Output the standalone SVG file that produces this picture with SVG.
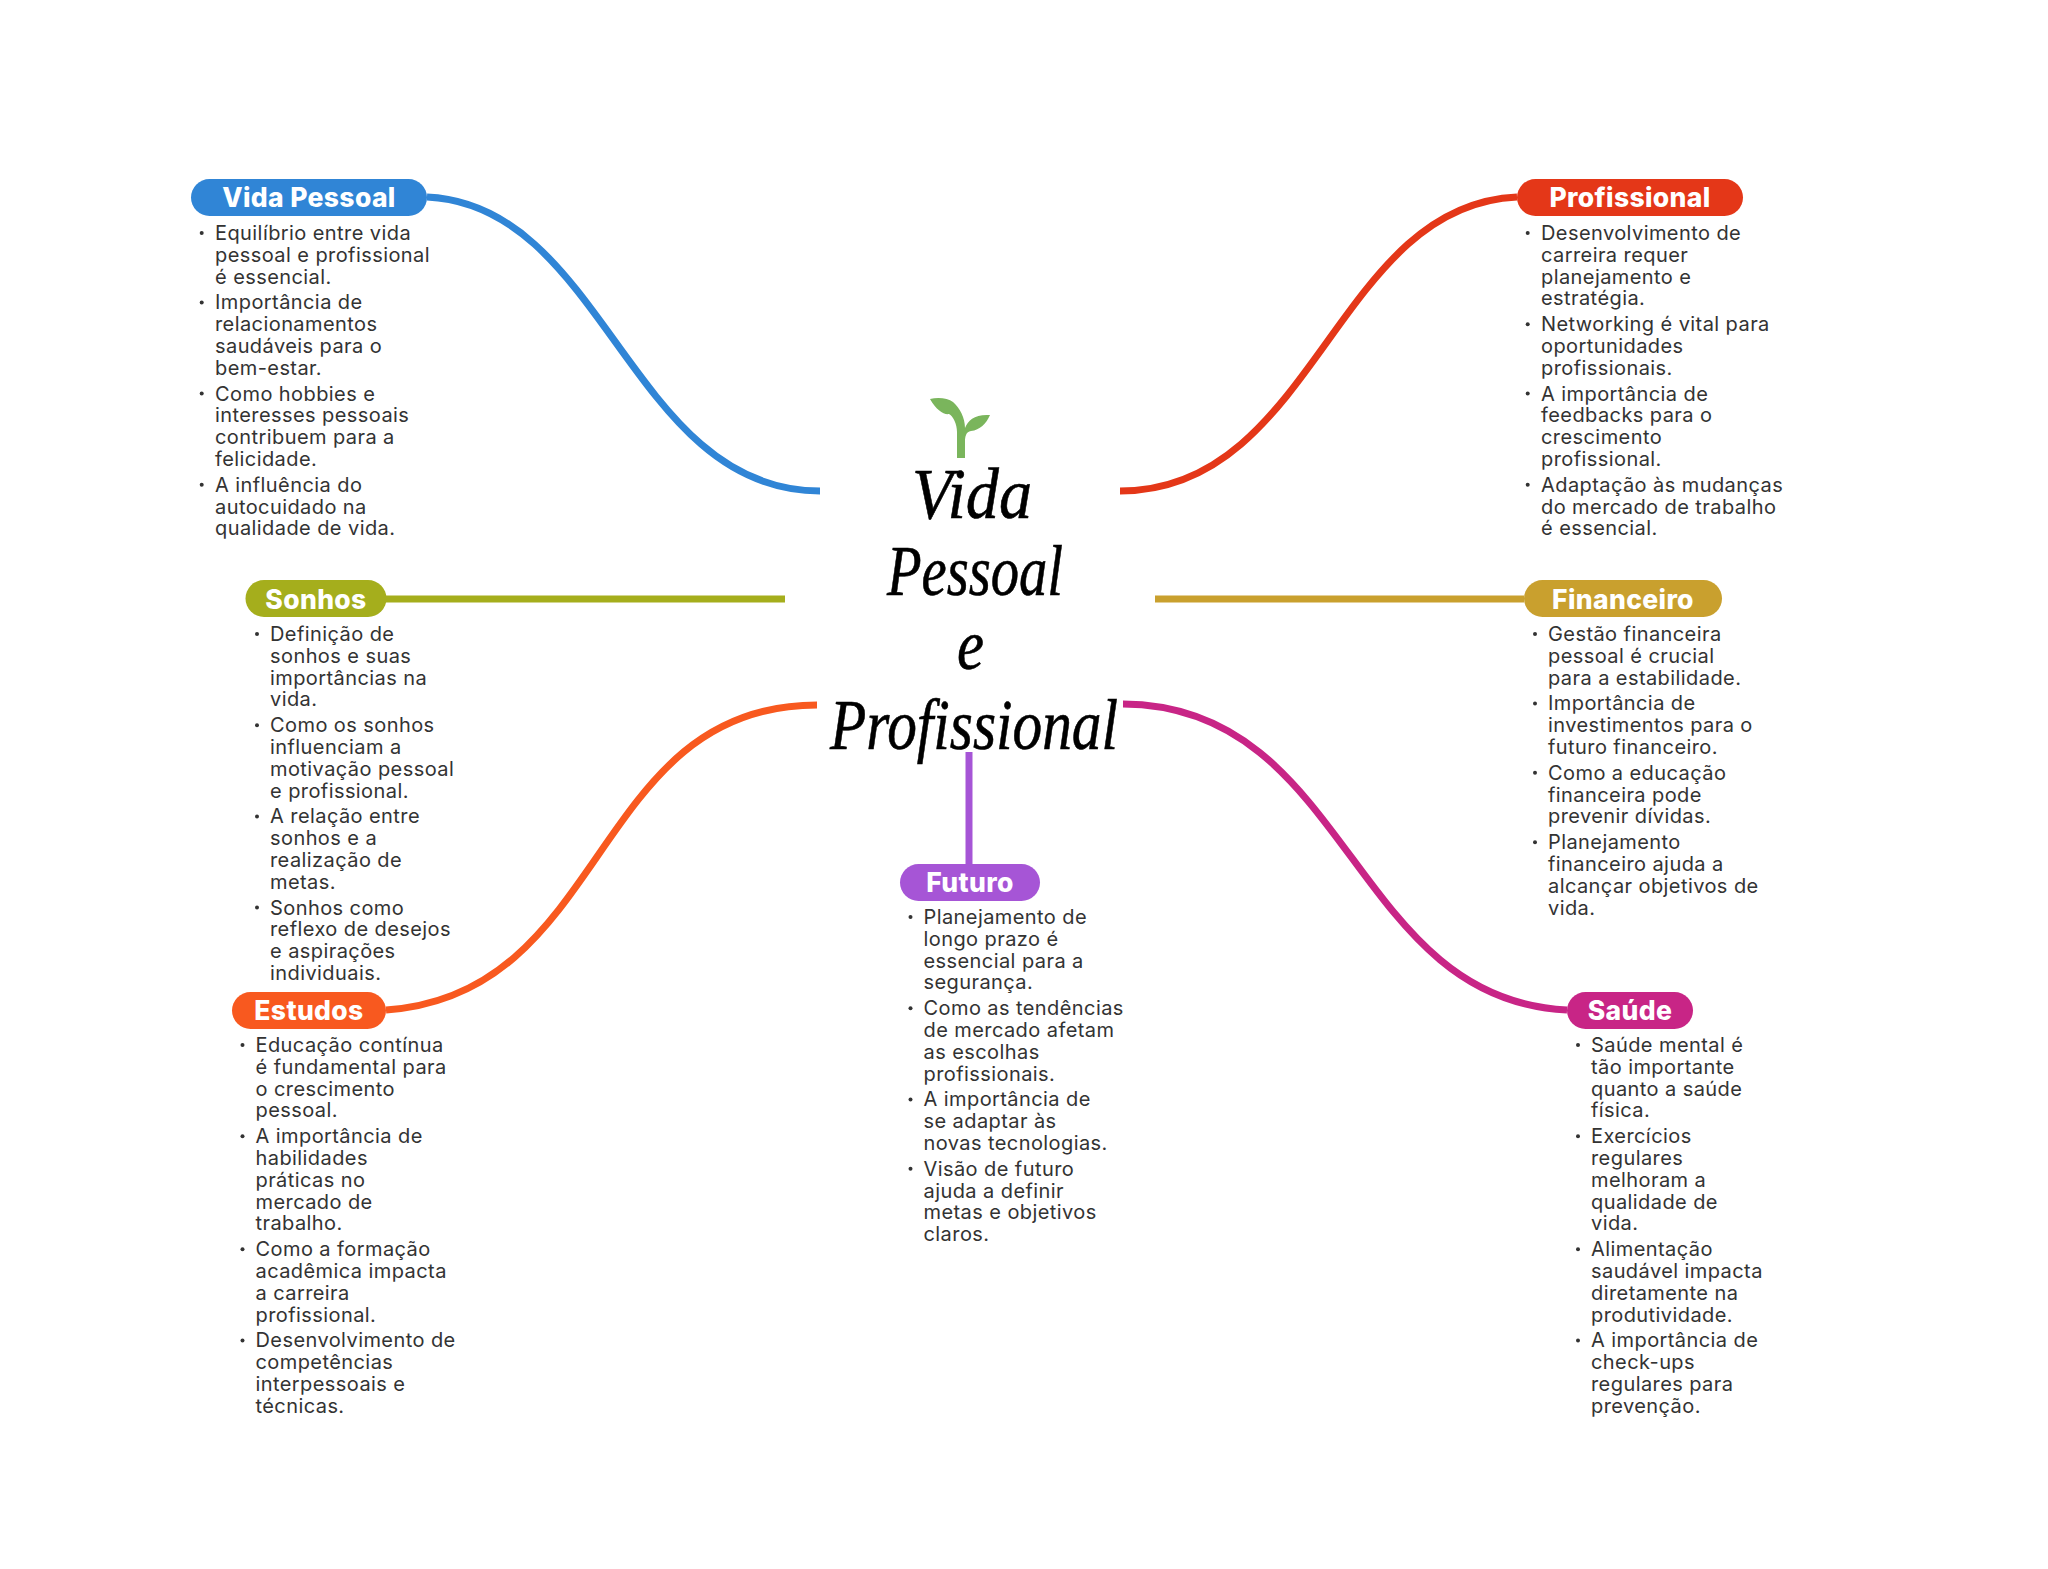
<svg xmlns="http://www.w3.org/2000/svg" width="2048" height="1569" viewBox="0 0 2048 1569">
<style>
.c{fill:none;stroke-width:7}
.p{font:800 26.5px Inter,"Open Sans",sans-serif;fill:#fff;text-anchor:middle;letter-spacing:.35px}
.t{font:400 20px Inter,"Open Sans",sans-serif;fill:#333;letter-spacing:.42px}
.b{fill:#333}
.h{font:italic 400 72px "Liberation Serif",serif;fill:#000;stroke:#000;stroke-width:.6}
</style>
<rect width="2048" height="1569" fill="#fff"/>
<g id="connectors">
<path class="c" stroke="#3085d6" d="M427 197C605 205 630 491 820 491"/>
<path class="c" stroke="#e43718" d="M1517 197C1335 205 1315 491 1120 491"/>
<path class="c" stroke="#a5ae1c" d="M386 599H785"/>
<path class="c" stroke="#c9a02e" d="M1155 599H1524"/>
<path class="c" stroke="#f8591f" d="M386 1010C610 995 590 705 817 705"/>
<path class="c" stroke="#c82586" d="M1123 704C1350 705 1350 1000 1567 1010"/>
<path class="c" stroke="#a655d6" d="M969 752V864"/>
</g>
<g id="center">
<path fill="#7ab55c" d="M930 399C938 397 948 398 953 402C960 408 965 418 965 428C968 420 975 414 990 415C986 424 980 430 971 431C966 432 965 436 965 442V458H957V432C957 424 953 416 949 414C944 415 936 410 930 399Z"/>
<text class="h" x="912" y="518" textLength="120" lengthAdjust="spacingAndGlyphs">Vida</text>
<text class="h" x="887" y="595" textLength="176" lengthAdjust="spacingAndGlyphs">Pessoal</text>
<text class="h" x="957" y="669" textLength="27" lengthAdjust="spacingAndGlyphs">e</text>
<text class="h" x="830" y="749" textLength="288" lengthAdjust="spacingAndGlyphs">Profissional</text>
</g>
<g id="vida-pessoal">
<rect x="191" y="179" width="236" height="37" rx="18.5" fill="#3085d6"/>
<text class="p" x="309" y="207">Vida Pessoal</text>
<g class="b"><circle cx="201.7" cy="233" r="2"/><circle cx="201.7" cy="302.4" r="2"/><circle cx="201.7" cy="393.6" r="2"/><circle cx="201.7" cy="484.8" r="2"/></g>
<text class="t"><tspan x="215" y="240">Equilíbrio entre vida</tspan><tspan x="215" dy="21.8">pessoal e profissional</tspan><tspan x="215" dy="21.8">é essencial.</tspan></text>
<text class="t"><tspan x="215" y="309.4">Importância de</tspan><tspan x="215" dy="21.8">relacionamentos</tspan><tspan x="215" dy="21.8">saudáveis para o</tspan><tspan x="215" dy="21.8">bem-estar.</tspan></text>
<text class="t"><tspan x="215" y="400.6">Como hobbies e</tspan><tspan x="215" dy="21.8">interesses pessoais</tspan><tspan x="215" dy="21.8">contribuem para a</tspan><tspan x="215" dy="21.8">felicidade.</tspan></text>
<text class="t"><tspan x="215" y="491.8">A influência do</tspan><tspan x="215" dy="21.8">autocuidado na</tspan><tspan x="215" dy="21.8">qualidade de vida.</tspan></text>
</g>
<g id="profissional">
<rect x="1517" y="179" width="226" height="37" rx="18.5" fill="#e43718"/>
<text class="p" x="1630" y="207">Profissional</text>
<g class="b"><circle cx="1527.7" cy="233" r="2"/><circle cx="1527.7" cy="324.2" r="2"/><circle cx="1527.7" cy="393.6" r="2"/><circle cx="1527.7" cy="484.8" r="2"/></g>
<text class="t"><tspan x="1541" y="240">Desenvolvimento de</tspan><tspan x="1541" dy="21.8">carreira requer</tspan><tspan x="1541" dy="21.8">planejamento e</tspan><tspan x="1541" dy="21.8">estratégia.</tspan></text>
<text class="t"><tspan x="1541" y="331.2">Networking é vital para</tspan><tspan x="1541" dy="21.8">oportunidades</tspan><tspan x="1541" dy="21.8">profissionais.</tspan></text>
<text class="t"><tspan x="1541" y="400.6">A importância de</tspan><tspan x="1541" dy="21.8">feedbacks para o</tspan><tspan x="1541" dy="21.8">crescimento</tspan><tspan x="1541" dy="21.8">profissional.</tspan></text>
<text class="t"><tspan x="1541" y="491.8">Adaptação às mudanças</tspan><tspan x="1541" dy="21.8">do mercado de trabalho</tspan><tspan x="1541" dy="21.8">é essencial.</tspan></text>
</g>
<g id="sonhos">
<rect x="245.5" y="580" width="141" height="37" rx="18.5" fill="#a5ae1c"/>
<text class="p" x="316" y="609">Sonhos</text>
<g class="b"><circle cx="257" cy="634" r="2"/><circle cx="257" cy="725.2" r="2"/><circle cx="257" cy="816.4" r="2"/><circle cx="257" cy="907.6" r="2"/></g>
<text class="t"><tspan x="270" y="641">Definição de</tspan><tspan x="270" dy="21.8">sonhos e suas</tspan><tspan x="270" dy="21.8">importâncias na</tspan><tspan x="270" dy="21.8">vida.</tspan></text>
<text class="t"><tspan x="270" y="732.2">Como os sonhos</tspan><tspan x="270" dy="21.8">influenciam a</tspan><tspan x="270" dy="21.8">motivação pessoal</tspan><tspan x="270" dy="21.8">e profissional.</tspan></text>
<text class="t"><tspan x="270" y="823.4">A relação entre</tspan><tspan x="270" dy="21.8">sonhos e a</tspan><tspan x="270" dy="21.8">realização de</tspan><tspan x="270" dy="21.8">metas.</tspan></text>
<text class="t"><tspan x="270" y="914.6">Sonhos como</tspan><tspan x="270" dy="21.8">reflexo de desejos</tspan><tspan x="270" dy="21.8">e aspirações</tspan><tspan x="270" dy="21.8">individuais.</tspan></text>
</g>
<g id="financeiro">
<rect x="1524" y="580" width="198" height="37" rx="18.5" fill="#c9a02e"/>
<text class="p" x="1623" y="609">Financeiro</text>
<g class="b"><circle cx="1535" cy="634" r="2"/><circle cx="1535" cy="703.4" r="2"/><circle cx="1535" cy="772.8" r="2"/><circle cx="1535" cy="842.2" r="2"/></g>
<text class="t"><tspan x="1548" y="641">Gestão financeira</tspan><tspan x="1548" dy="21.8">pessoal é crucial</tspan><tspan x="1548" dy="21.8">para a estabilidade.</tspan></text>
<text class="t"><tspan x="1548" y="710.4">Importância de</tspan><tspan x="1548" dy="21.8">investimentos para o</tspan><tspan x="1548" dy="21.8">futuro financeiro.</tspan></text>
<text class="t"><tspan x="1548" y="779.8">Como a educação</tspan><tspan x="1548" dy="21.8">financeira pode</tspan><tspan x="1548" dy="21.8">prevenir dívidas.</tspan></text>
<text class="t"><tspan x="1548" y="849.2">Planejamento</tspan><tspan x="1548" dy="21.8">financeiro ajuda a</tspan><tspan x="1548" dy="21.8">alcançar objetivos de</tspan><tspan x="1548" dy="21.8">vida.</tspan></text>
</g>
<g id="estudos">
<rect x="232" y="992" width="154" height="37" rx="18.5" fill="#f8591f"/>
<text class="p" x="309" y="1020">Estudos</text>
<g class="b"><circle cx="242.5" cy="1045" r="2"/><circle cx="242.5" cy="1136.2" r="2"/><circle cx="242.5" cy="1249.2" r="2"/><circle cx="242.5" cy="1340.4" r="2"/></g>
<text class="t"><tspan x="255.5" y="1052">Educação contínua</tspan><tspan x="255.5" dy="21.8">é fundamental para</tspan><tspan x="255.5" dy="21.8">o crescimento</tspan><tspan x="255.5" dy="21.8">pessoal.</tspan></text>
<text class="t"><tspan x="255.5" y="1143.2">A importância de</tspan><tspan x="255.5" dy="21.8">habilidades</tspan><tspan x="255.5" dy="21.8">práticas no</tspan><tspan x="255.5" dy="21.8">mercado de</tspan><tspan x="255.5" dy="21.8">trabalho.</tspan></text>
<text class="t"><tspan x="255.5" y="1256.2">Como a formação</tspan><tspan x="255.5" dy="21.8">acadêmica impacta</tspan><tspan x="255.5" dy="21.8">a carreira</tspan><tspan x="255.5" dy="21.8">profissional.</tspan></text>
<text class="t"><tspan x="255.5" y="1347.4">Desenvolvimento de</tspan><tspan x="255.5" dy="21.8">competências</tspan><tspan x="255.5" dy="21.8">interpessoais e</tspan><tspan x="255.5" dy="21.8">técnicas.</tspan></text>
</g>
<g id="futuro">
<rect x="900" y="864" width="140" height="37" rx="18.5" fill="#a655d6"/>
<text class="p" x="970" y="892">Futuro</text>
<g class="b"><circle cx="910.5" cy="917" r="2"/><circle cx="910.5" cy="1008.2" r="2"/><circle cx="910.5" cy="1099.4" r="2"/><circle cx="910.5" cy="1168.8" r="2"/></g>
<text class="t"><tspan x="923.5" y="924">Planejamento de</tspan><tspan x="923.5" dy="21.8">longo prazo é</tspan><tspan x="923.5" dy="21.8">essencial para a</tspan><tspan x="923.5" dy="21.8">segurança.</tspan></text>
<text class="t"><tspan x="923.5" y="1015.2">Como as tendências</tspan><tspan x="923.5" dy="21.8">de mercado afetam</tspan><tspan x="923.5" dy="21.8">as escolhas</tspan><tspan x="923.5" dy="21.8">profissionais.</tspan></text>
<text class="t"><tspan x="923.5" y="1106.4">A importância de</tspan><tspan x="923.5" dy="21.8">se adaptar às</tspan><tspan x="923.5" dy="21.8">novas tecnologias.</tspan></text>
<text class="t"><tspan x="923.5" y="1175.8">Visão de futuro</tspan><tspan x="923.5" dy="21.8">ajuda a definir</tspan><tspan x="923.5" dy="21.8">metas e objetivos</tspan><tspan x="923.5" dy="21.8">claros.</tspan></text>
</g>
<g id="saude">
<rect x="1567" y="992" width="126" height="37" rx="18.5" fill="#c82586"/>
<text class="p" x="1630" y="1020">Saúde</text>
<g class="b"><circle cx="1578" cy="1045" r="2"/><circle cx="1578" cy="1136.2" r="2"/><circle cx="1578" cy="1249.2" r="2"/><circle cx="1578" cy="1340.4" r="2"/></g>
<text class="t"><tspan x="1591" y="1052">Saúde mental é</tspan><tspan x="1591" dy="21.8">tão importante</tspan><tspan x="1591" dy="21.8">quanto a saúde</tspan><tspan x="1591" dy="21.8">física.</tspan></text>
<text class="t"><tspan x="1591" y="1143.2">Exercícios</tspan><tspan x="1591" dy="21.8">regulares</tspan><tspan x="1591" dy="21.8">melhoram a</tspan><tspan x="1591" dy="21.8">qualidade de</tspan><tspan x="1591" dy="21.8">vida.</tspan></text>
<text class="t"><tspan x="1591" y="1256.2">Alimentação</tspan><tspan x="1591" dy="21.8">saudável impacta</tspan><tspan x="1591" dy="21.8">diretamente na</tspan><tspan x="1591" dy="21.8">produtividade.</tspan></text>
<text class="t"><tspan x="1591" y="1347.4">A importância de</tspan><tspan x="1591" dy="21.8">check-ups</tspan><tspan x="1591" dy="21.8">regulares para</tspan><tspan x="1591" dy="21.8">prevenção.</tspan></text>
</g>
</svg>
